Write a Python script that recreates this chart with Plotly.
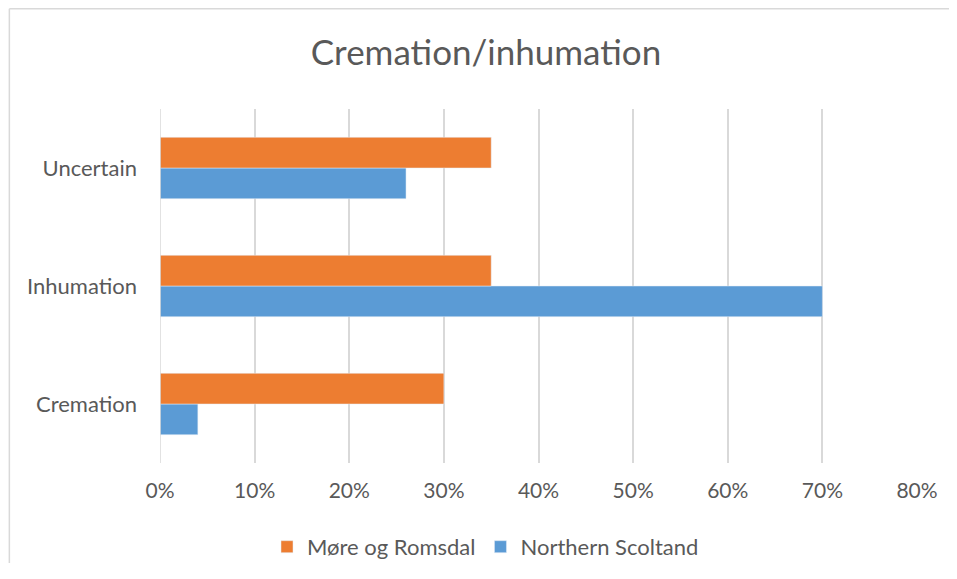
import plotly.graph_objects as go

categories = ["Cremation", "Inhumation", "Uncertain"]
more_romsdal = [0.30, 0.35, 0.35]
northern_scotland = [0.04, 0.70, 0.26]
x_ticks = [0, 0.1, 0.2, 0.3, 0.4, 0.5, 0.6, 0.7, 0.8]

FONT = "Lato, Calibri, 'Open Sans', sans-serif"
TEXT = "#595959"
GRID = "#d9d9d9"

fig = go.Figure()

# plotly stacks grouped horizontal bars bottom-up, so blue goes in first
fig.add_trace(go.Bar(
    y=categories, x=northern_scotland, orientation="h",
    name="Northern Scoltand", marker=dict(color="#5B9BD5"),
    legendrank=2,
))
fig.add_trace(go.Bar(
    y=categories, x=more_romsdal, orientation="h",
    name="Møre og Romsdal", marker=dict(color="#ED7D31"),
    legendrank=1,
))

# chart-area border: only the top and left edges are inside the crop
border = dict(color=GRID, width=1.5)
fig.add_shape(type="line", xref="paper", yref="paper",
              x0=-0.199, x1=1.2, y0=1.283, y1=1.283, line=border, layer="below")
fig.add_shape(type="line", xref="paper", yref="paper",
              x0=-0.199, x1=-0.199, y0=-0.5, y1=1.283, line=border, layer="below")

# figure is smaller than the window: the page body adds an 8px margin
fig.update_layout(
    width=941, height=555,
    margin=dict(l=152, r=32, t=101, b=100, autoexpand=False),
    paper_bgcolor="white", plot_bgcolor="white",
    barmode="group", bargap=0.48, bargroupgap=0,
    font=dict(family=FONT, size=22, color=TEXT),
    title=dict(
        text="Cremation/inhumation", x=0.508, xanchor="center",
        y=0.919, yanchor="middle", font=dict(size=35, color=TEXT),
    ),
    xaxis=dict(
        range=[0, 0.8], tickvals=x_ticks, tickformat=".0%",
        showgrid=True, gridcolor=GRID, gridwidth=1.5,
        zeroline=False, showline=False, ticks="",
        ticklabelstandoff=13,
        tickfont=dict(size=21, color=TEXT),
    ),
    yaxis=dict(
        showgrid=False, zeroline=False, ticks="",
        showline=False, ticklabelstandoff=22,
        tickfont=dict(size=22, color=TEXT),
    ),
    legend=dict(
        orientation="h", x=0.43, xanchor="center",
        y=-0.237, yanchor="middle",
        font=dict(size=22, color=TEXT),
        itemwidth=30,
    ),
)

fig.add_vline(x=0, line_color=GRID, line_width=1.5)

fig.write_html("out.html")
